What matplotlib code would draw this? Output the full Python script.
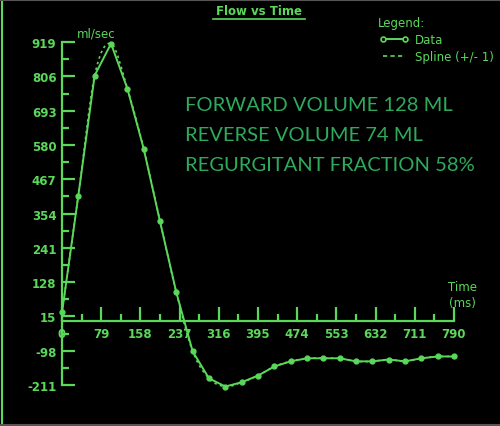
import numpy as np
import matplotlib.pyplot as plt
from matplotlib.lines import Line2D

plt.rcParams['axes.unicode_minus'] = False

# flow curve
time_ms = [0, 32.9, 65.8, 98.8, 131.7, 164.6, 197.5, 230.4, 263.3, 296.2, 329.2, 362.1,
           395, 427.9, 460.8, 493.8, 526.7, 559.6, 592.5, 625.4, 658.3, 691.2, 724.2, 757.1, 790]
flow = [28, 413, 809, 914, 766, 568, 328, 94, -100, -189, -216, -202,
        -180, -150, -133, -123, -123, -123, -133, -133, -127, -133, -123, -117, -117]
yticks = [919, 806, 693, 580, 467, 354, 241, 128, 15, -98, -211]
xticks = [0, 79, 158, 237, 316, 395, 474, 553, 632, 711, 790]
notes = ['FORWARD VOLUME 128 ML', 'REVERSE VOLUME 74 ML', 'REGURGITANT FRACTION 58%']

GREEN = '#5ad85a'
TXT = '#2eaa5c'


def catmull_rom(x, y, n=12):
    # smooth curve through the points for the dashed "spline" trace
    x = np.asarray(x, float)
    y = np.asarray(y, float)
    px = np.concatenate([[2 * x[0] - x[1]], x, [2 * x[-1] - x[-2]]])
    py = np.concatenate([[2 * y[0] - y[1]], y, [2 * y[-1] - y[-2]]])
    xs, ys = [], []
    t = np.linspace(0, 1, n, endpoint=False)
    for i in range(1, len(px) - 2):
        for p, out in ((px, xs), (py, ys)):
            p0, p1, p2, p3 = p[i - 1], p[i], p[i + 1], p[i + 2]
            out.extend(0.5 * (2 * p1 + (-p0 + p2) * t + (2 * p0 - 5 * p1 + 4 * p2 - p3) * t ** 2
                              + (-p0 + 3 * p1 - 3 * p2 + p3) * t ** 3))
    xs.append(x[-1])
    ys.append(y[-1])
    return xs, ys


fig = plt.figure(figsize=(5, 4.27), dpi=100, facecolor='black')
ax = fig.add_axes([0.124, 0.096, 0.784, 0.803])
ax.set_facecolor('black')

sx, sy = catmull_rom(time_ms, flow)
ax.plot(sx, sy, color=GREEN, lw=1.2, ls=(0, (1.5, 2)), clip_on=False)
ax.plot(time_ms, flow, color=GREEN, lw=1.4, marker='o', ms=3.5, clip_on=False)

ax.set_xlim(0, 790)
ax.set_ylim(-211, 919)
for s in ['top', 'right']:
    ax.spines[s].set_visible(False)
ax.spines['bottom'].set_position(('data', 0))
for s in ['left', 'bottom']:
    ax.spines[s].set_color(GREEN)
    ax.spines[s].set_linewidth(1.6)

ax.set_yticks(yticks)
ax.set_yticks([v + 56.5 for v in yticks[1:]], minor=True)
ax.set_xticks(xticks)
ax.set_xticklabels(xticks)
ax.set_xticks([v + 39.5 for v in xticks[:-1]], minor=True)
ax.tick_params(axis='both', which='both', direction='in', colors=GREEN, labelsize=8.5)
ax.tick_params(axis='y', which='major', length=9, width=1.6, pad=4)
ax.tick_params(axis='y', which='minor', length=5, width=1.6)
ax.tick_params(axis='x', which='major', length=10, width=1.6, pad=4)
ax.tick_params(axis='x', which='minor', length=5, width=1.6)
for lab in ax.get_xticklabels() + ax.get_yticklabels():
    lab.set_fontweight('bold')

# texts
fig.text(0.518, 0.972, 'Flow vs Time', color=GREEN, fontsize=8.5, fontweight='bold',
         ha='center', va='center')
fig.add_artist(Line2D([0.426, 0.61], [0.952, 0.952], color=GREEN, lw=1.2))
fig.text(0.192, 0.921, 'ml/sec', color=GREEN, fontsize=8.5, ha='center', va='center')
fig.text(0.756, 0.944, 'Legend:', color=GREEN, fontsize=8.5, va='center')
fig.text(0.83, 0.906, 'Data', color=GREEN, fontsize=8.5, va='center')
fig.text(0.83, 0.866, 'Spline (+/- 1)', color=GREEN, fontsize=8.5, va='center')
fig.add_artist(Line2D([0.766, 0.81], [0.906, 0.906], color=GREEN, lw=1.4, marker='o',
                      ms=3.5, mfc='black', mew=1.2))
fig.add_artist(Line2D([0.766, 0.808], [0.866, 0.866], color=GREEN, lw=1.2, ls=(0, (2.5, 2))))
fig.text(0.924, 0.327, 'Time', color=GREEN, fontsize=8.5, ha='center', va='center')
fig.text(0.924, 0.29, '(ms)', color=GREEN, fontsize=8.5, ha='center', va='center')

for i, t in enumerate(notes):
    fig.text(0.37, 0.752 - i * 0.07, t, color=TXT, fontsize=14.5, family='Lato', va='center')

# frame of the screenshot
fig.add_artist(Line2D([0.003, 0.003], [0, 1], color=GREEN, lw=1.5))
fig.add_artist(Line2D([0, 1], [0.998, 0.998], color='#555555', lw=1.5))
fig.add_artist(Line2D([0, 1], [0.002, 0.002], color='#555555', lw=1.5))

fig.savefig('out.png', dpi=100, facecolor='black')
